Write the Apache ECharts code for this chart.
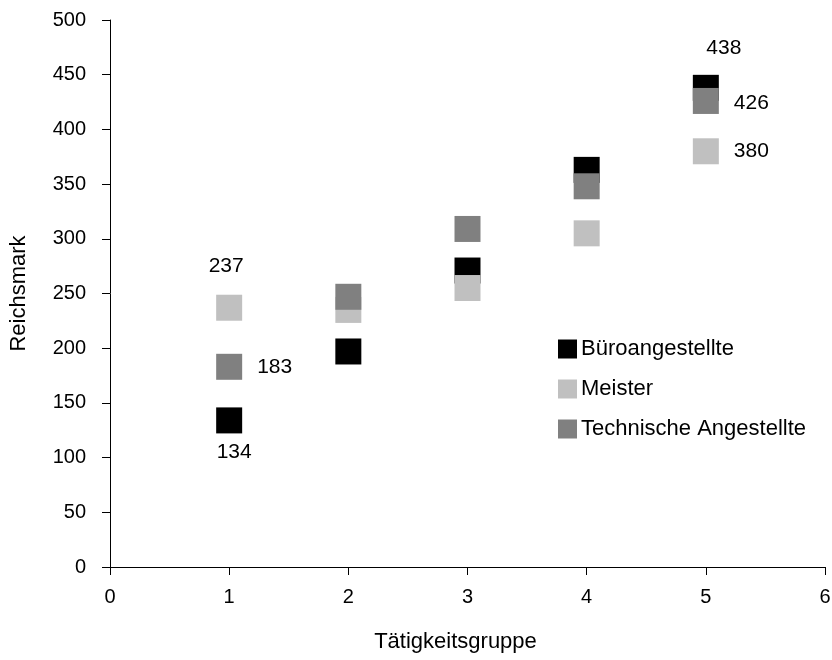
<!DOCTYPE html>
<html>
<head>
<meta charset="utf-8">
<script src="https://cdn.jsdelivr.net/npm/echarts@6/dist/echarts.min.js"></script>
<style>html,body{margin:0;padding:0;background:#fff;}#c{width:832px;height:660px;}</style>
</head>
<body>
<div id="c"></div>
<script>
var groups = [1, 2, 3, 4, 5];
var buero = [134, 197, 271, 363, 438];
var meister = [237, 235, 255, 305, 380];
var technik = [183, 247, 309, 348, 426];
var seriesNames = ['Büroangestellte', 'Meister', 'Technische Angestellte'];
var xTicks = [0, 1, 2, 3, 4, 5, 6];
var yTicks = [0, 50, 100, 150, 200, 250, 300, 350, 400, 450, 500];

var font = '"Liberation Sans", Arial, sans-serif';
function pts(vals, labelCfg) {
  return vals.map(function (v, i) {
    var d = { value: [groups[i], v] };
    if (labelCfg[i]) {
      d.label = { show: true, position: labelCfg[i][0], distance: labelCfg[i][1], offset: labelCfg[i][2] || [0, 0] };
    }
    return d;
  });
}
function labelStyle() {
  return { color: '#000', opacity: 1, fontSize: 21, fontFamily: font,
           formatter: function (p) { return p.value[1]; } };
}
var chart = echarts.init(document.getElementById('c'));
chart.setOption({
  animation: false,
  grid: { left: 110, right: 7, top: 20, bottom: 93, containLabel: false, outerBoundsMode: 'none' },
  xAxis: {
    type: 'value', min: xTicks[0], max: xTicks[xTicks.length - 1], interval: 1,
    name: 'Tätigkeitsgruppe', nameLocation: 'middle', nameGap: 64, nameMoveOverlap: false,
    nameTextStyle: { fontSize: 22, color: '#000', fontFamily: font, verticalAlign: 'top', padding: [0, 24, 0, 0] },
    axisLine: { lineStyle: { color: '#000', width: 1 } },
    axisTick: { show: true, length: 8, lineStyle: { color: '#000' } },
    axisLabel: { fontSize: 20, color: '#000', fontFamily: font, margin: 20 },
    splitLine: { show: false }
  },
  yAxis: {
    type: 'value', min: yTicks[0], max: yTicks[yTicks.length - 1], interval: 50,
    name: 'Reichsmark', nameLocation: 'middle', nameGap: 80, nameRotate: 90, nameMoveOverlap: false,
    nameTextStyle: { fontSize: 22, color: '#000', fontFamily: font },
    axisLine: { show: true, lineStyle: { color: '#000', width: 1 } },
    axisTick: { show: true, length: 8, lineStyle: { color: '#000' } },
    axisLabel: { fontSize: 20, color: '#000', fontFamily: font, margin: 24 },
    splitLine: { show: false }
  },
  legend: {
    orient: 'vertical', left: 558, top: 338, padding: 0,
    itemWidth: 19, itemHeight: 19, itemGap: 18,
    icon: 'rect',
    textStyle: { fontSize: 22, color: '#000', fontFamily: font, padding: [0, 0, 0, -1] },
    data: seriesNames
  },
  series: [
    { name: seriesNames[0], type: 'scatter', symbol: 'rect', symbolSize: 26,
      itemStyle: { color: '#000000', opacity: 1 },
      label: labelStyle(),
      data: pts(buero, [['bottom', 8, [5, 0]], null, null, null, ['top', 16, [18, 0]]]) },
    { name: seriesNames[1], type: 'scatter', symbol: 'rect', symbolSize: 26,
      itemStyle: { color: '#c0c0c0', opacity: 1 },
      label: labelStyle(),
      data: pts(meister, [['top', 18, [-3, 0]], null, null, null, ['right', 15]]) },
    { name: seriesNames[2], type: 'scatter', symbol: 'rect', symbolSize: 26,
      itemStyle: { color: '#808080', opacity: 1 },
      label: labelStyle(),
      data: pts(technik, [['right', 15], null, null, null, ['right', 15, [0, 2]]]) }
  ]
});
</script>
</body>
</html>
